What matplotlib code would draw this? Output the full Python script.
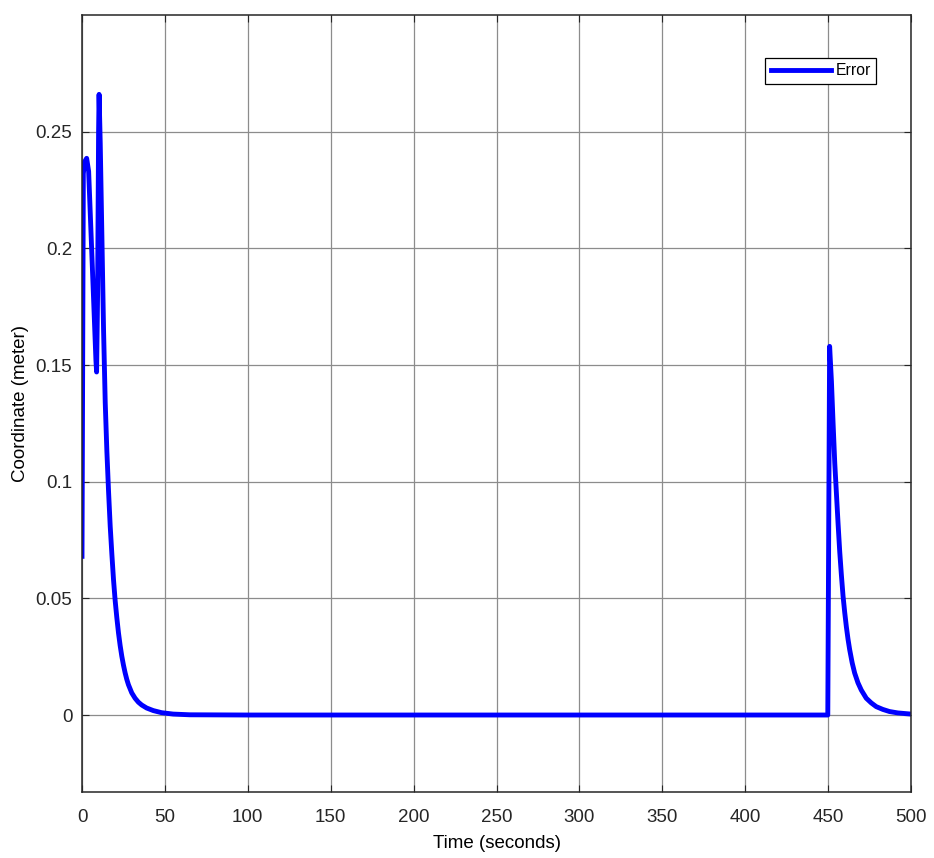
import matplotlib.pyplot as plt

plt.rcParams['font.family'] = ['Liberation Sans', 'DejaVu Sans']

# error curve
time = [0, 0.8, 1.5, 2.8, 4, 5.8, 7, 8.4, 8.8, 9.4, 10.0, 10.3, 11, 12, 13, 14,
        15, 16, 17, 18, 19, 20, 21, 22, 23, 24, 25, 26, 27, 28, 30, 32, 34, 36,
        39, 43, 48, 55, 65,
        100, 200, 300, 400, 449.8, 450.9, 452, 453, 454, 455, 456, 457, 458, 459,
        460, 461, 462, 463, 464.5, 466, 468, 470, 473, 476, 479, 483, 487, 492, 500]
error = [0.068, 0.232, 0.237, 0.2386, 0.233, 0.2, 0.178, 0.152, 0.147, 0.18, 0.25, 0.266,
         0.245, 0.205, 0.165, 0.134,
         0.113, 0.096, 0.081, 0.069, 0.058, 0.049, 0.0417, 0.0352, 0.0298, 0.0252,
         0.0214, 0.0181, 0.0153, 0.013, 0.0095, 0.0072, 0.0055, 0.0043,
         0.003, 0.0019, 0.001, 0.0004, 0.0001,
         0.0, 0.0, 0.0, 0.0, 0.0, 0.158, 0.143, 0.125, 0.108, 0.095, 0.082, 0.07, 0.06, 0.051,
         0.044, 0.0378, 0.0325, 0.028, 0.0224, 0.018, 0.0138, 0.0107, 0.0072, 0.0052, 0.0036,
         0.0024, 0.0015, 0.0009, 0.0004]

xticks = [0, 50, 100, 150, 200, 250, 300, 350, 400, 450, 500]
yticks = [0, 0.05, 0.1, 0.15, 0.2, 0.25]
ytick_labels = ['0', '0.05', '0.1', '0.15', '0.2', '0.25']

fig = plt.figure(figsize=(9.34, 8.58), dpi=100)
ax = fig.add_axes([0.0878, 0.0769, 0.8876, 0.9056])

ax.plot(time, error, color=(0, 0, 1), linewidth=3.5, label='Error')

ax.set_xlim(0, 500)
ax.set_ylim(-0.033, 0.3)
ax.set_xticks(xticks)
ax.set_yticks(yticks)
ax.set_yticklabels(ytick_labels)
ax.grid(True, color='#8c8c8c', linewidth=0.9)
ax.tick_params(direction='in', top=True, right=True, labelsize=13.5, length=5,
               colors='#262626', pad=7)
ax.tick_params(axis='x', pad=12)
for s in ax.spines.values():
    s.set_color('#262626')
    s.set_linewidth(1.1)

ax.set_xlabel('Time (seconds)', fontsize=13.5, labelpad=7)
ax.set_ylabel('Coordinate (meter)', fontsize=13.5, labelpad=5)

leg = ax.legend(loc='upper right', bbox_to_anchor=(0.958, 0.945), fontsize=11.3,
                frameon=True, fancybox=False, edgecolor='black', framealpha=1,
                handlelength=3.8, handletextpad=0.3, borderpad=0.35, borderaxespad=0)
leg.get_frame().set_linewidth(0.9)

plt.savefig('out.png', dpi=100)
